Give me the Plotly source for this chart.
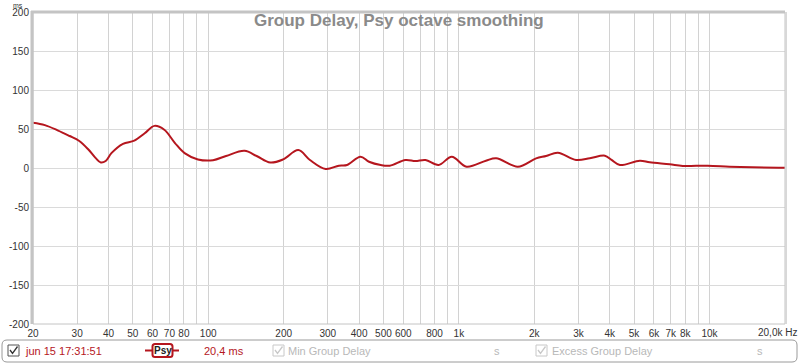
import plotly.graph_objects as go

# Group delay curve (Hz, ms)
freq_hz = [20, 22.3, 25.2, 28, 30.5, 33.2, 35.5, 37.3, 39, 41.1, 45.7, 50.7, 55.8, 61.0, 66.8, 73.7, 80.5, 91, 104.5,
           117.8, 139.6, 156, 176.9, 198.9, 228.8, 254.6, 294, 332, 358, 405, 438, 488, 530, 612, 671, 736, 830,
           937, 1073, 1282, 1409, 1718, 2033, 2228, 2482, 2935, 3328, 3823, 4066, 4390, 5273, 5773, 6934, 7820,
           9830, 12000, 14800, 20000]
delay_ms = [58, 55, 48, 41, 35, 24, 13, 7, 9, 19, 31, 35, 44.5, 54, 49, 32, 19, 11, 10,
            15.4, 22, 15.4, 7, 11, 23, 10.3, -1.3, 3, 3.8, 14.5, 8, 3.8, 3, 10.3, 9, 10.3, 3.8,
            14.5, 1.7, 9.4, 12.4, 1.7, 12.4, 15.4, 19.6, 10.3, 12.4, 15.8, 10.3, 3.8, 9.4, 7.3, 4.7, 2.6,
            3, 1.7, 0.9, 0.4]

grid_freqs = [20, 30, 40, 50, 60, 70, 80, 90, 100, 200, 300, 400, 500, 600, 700, 800, 900,
              1000, 2000, 3000, 4000, 5000, 6000, 7000, 8000, 9000, 10000]
grid_labels = ["20", "30", "40", "50", "60", "70", "80", "", "100", "200", "300", "400", "500", "600", "",
               "800", "", "1k", "2k", "3k", "4k", "5k", "6k", "7k", "8k", "", "10k"]
y_ticks = [200, 150, 100, 50, 0, -50, -100, -150, -200]
y_labels = ["200", "150", "100", "50", "0", "-50", "-100", "-150", "-200"]

title_text = "Group Delay, Psy octave smoothing"
legend_name = "jun 15 17:31:51"
legend_value = "20,4 ms"

RED = "#b5161e"
W, H = 800, 364
L, R, T, B = 33, 785, 12, 324


def px(x):
    return (x - L) / (R - L)


def py(y):
    return (B - y) / (B - T)


fig = go.Figure()
fig.add_trace(go.Scatter(x=freq_hz, y=delay_ms, mode="lines",
                         line=dict(color=RED, width=2, shape="spline", smoothing=1.0),
                         hoverinfo="skip", showlegend=False))

fig.update_layout(
    width=W, height=H,
    margin=dict(l=L, r=W - R, t=T, b=H - B, autoexpand=False),
    paper_bgcolor="white", plot_bgcolor="white",
    font=dict(family="Liberation Sans, Arial, sans-serif", size=10, color="#333333"),
    showlegend=False,
    xaxis=dict(type="log", range=[1.30103, 4.30103], tickvals=grid_freqs, ticktext=grid_labels,
               showgrid=True, gridcolor="#d2d2d2", gridwidth=1, zeroline=False, showline=False,
               ticks="", tickfont=dict(size=10, color="#333333"), fixedrange=True, automargin=False,
               ticklabelstandoff=2),
    yaxis=dict(range=[-200, 200], tickvals=y_ticks, ticktext=y_labels, showgrid=True, gridcolor="#dadada",
               gridwidth=1, zeroline=False, showline=False, ticks="", tickfont=dict(size=10, color="#333333"),
               fixedrange=True, automargin=False, ticklabelstandoff=3),
)

shapes = []
# plot frame
shapes.append(dict(type="rect", xref="paper", yref="paper", x0=0, x1=1, y0=0, y1=1,
                   line=dict(color="#c4c4c4", width=1)))
shapes.append(dict(type="line", xref="paper", yref="paper", x0=px(32), x1=px(32), y0=py(B), y1=py(T - 1),
                   line=dict(color="#c4c4c4", width=3)))
shapes.append(dict(type="line", xref="paper", yref="paper", x0=px(31), x1=px(R), y0=py(T), y1=py(T),
                   line=dict(color="#c4c4c4", width=3)))
shapes.append(dict(type="line", xref="paper", yref="paper", x0=px(R + 1), x1=px(R + 1), y0=py(B), y1=py(T),
                   line=dict(color="#d8d8d8", width=2)))

# bottom panel
shapes.append(dict(type="path", xref="paper", yref="paper",
                   path=" ".join([
                       f"M {px(7)} {py(340)}", f"L {px(792)} {py(340)}",
                       f"Q {px(797)} {py(340)} {px(797)} {py(345)}",
                       f"L {px(797)} {py(357)}",
                       f"Q {px(797)} {py(362)} {px(792)} {py(362)}",
                       f"L {px(7)} {py(362)}",
                       f"Q {px(2)} {py(362)} {px(2)} {py(357)}",
                       f"L {px(2)} {py(345)}",
                       f"Q {px(2)} {py(340)} {px(7)} {py(340)} Z"]),
                   line=dict(color="#9a9a9a", width=1), fillcolor="white"))


def checkbox(x0, color, check):
    shapes.append(dict(type="rect", xref="paper", yref="paper", x0=px(x0), x1=px(x0 + 11),
                       y0=py(356), y1=py(345), line=dict(color=color, width=1), fillcolor="white"))
    shapes.append(dict(type="path", xref="paper", yref="paper",
                       path=f"M {px(x0 + 2)} {py(350)} L {px(x0 + 4.5)} {py(353.5)} L {px(x0 + 9.5)} {py(346.5)}",
                       line=dict(color=check, width=1.3)))


checkbox(8, "#555555", "#333333")
checkbox(273, "#c8c8c8", "#c8c8c8")
checkbox(536, "#c8c8c8", "#c8c8c8")

# Psy line marker
shapes.append(dict(type="line", xref="paper", yref="paper", x0=px(145), x1=px(179), y0=py(350.5), y1=py(350.5),
                   line=dict(color=RED, width=2)))
shapes.append(dict(type="path", xref="paper", yref="paper",
                   path=" ".join([
                       f"M {px(155)} {py(344)}", f"L {px(170)} {py(344)}",
                       f"Q {px(172.5)} {py(344)} {px(172.5)} {py(346.5)}",
                       f"L {px(172.5)} {py(354.5)}",
                       f"Q {px(172.5)} {py(357)} {px(170)} {py(357)}",
                       f"L {px(155)} {py(357)}",
                       f"Q {px(152.5)} {py(357)} {px(152.5)} {py(354.5)}",
                       f"L {px(152.5)} {py(346.5)}",
                       f"Q {px(152.5)} {py(344)} {px(155)} {py(344)} Z"]),
                   line=dict(color=RED, width=2), fillcolor="white"))

fig.update_layout(shapes=shapes)

ann = []
ann.append(dict(text=f"<b>{title_text}</b>", x=px(399), y=py(20), xref="paper", yref="paper",
                showarrow=False, font=dict(size=17, color="#8a8a8a", family="Liberation Sans, Arial"),
                xanchor="center", yanchor="middle"))
ann.append(dict(text="ms", x=px(18), y=py(0), xref="paper", yref="paper", showarrow=False,
                font=dict(size=7, color="#333333"), xanchor="center", yanchor="top"))
ann.append(dict(text="20,0k Hz", x=px(799), y=py(333), xref="paper", yref="paper", showarrow=False,
                font=dict(size=10, color="#333333"), xanchor="right", yanchor="middle"))
ann.append(dict(text=legend_name, x=px(23), y=py(351), xref="paper", yref="paper", showarrow=False,
                font=dict(size=11, color=RED), xanchor="left", yanchor="middle"))
ann.append(dict(text="<b>Psy</b>", x=px(162.5), y=py(350.5), xref="paper", yref="paper", showarrow=False,
                font=dict(size=10, color="#222222"), xanchor="center", yanchor="middle"))
ann.append(dict(text=legend_value, x=px(202), y=py(351), xref="paper", yref="paper", showarrow=False,
                font=dict(size=11, color=RED), xanchor="left", yanchor="middle"))
ann.append(dict(text="Min Group Delay", x=px(286), y=py(351), xref="paper", yref="paper", showarrow=False,
                font=dict(size=11, color="#b8b8b8"), xanchor="left", yanchor="middle"))
ann.append(dict(text="s", x=px(497), y=py(351), xref="paper", yref="paper", showarrow=False,
                font=dict(size=11, color="#b8b8b8"), xanchor="center", yanchor="middle"))
ann.append(dict(text="Excess Group Delay", x=px(550), y=py(351), xref="paper", yref="paper", showarrow=False,
                font=dict(size=11, color="#b8b8b8"), xanchor="left", yanchor="middle"))
ann.append(dict(text="s", x=px(760), y=py(351), xref="paper", yref="paper", showarrow=False,
                font=dict(size=11, color="#b8b8b8"), xanchor="center", yanchor="middle"))
fig.update_layout(annotations=ann)

fig.write_html("out.html", config={"displayModeBar": False},
               post_script="document.body.style.margin='0';document.body.style.overflow='hidden';")
